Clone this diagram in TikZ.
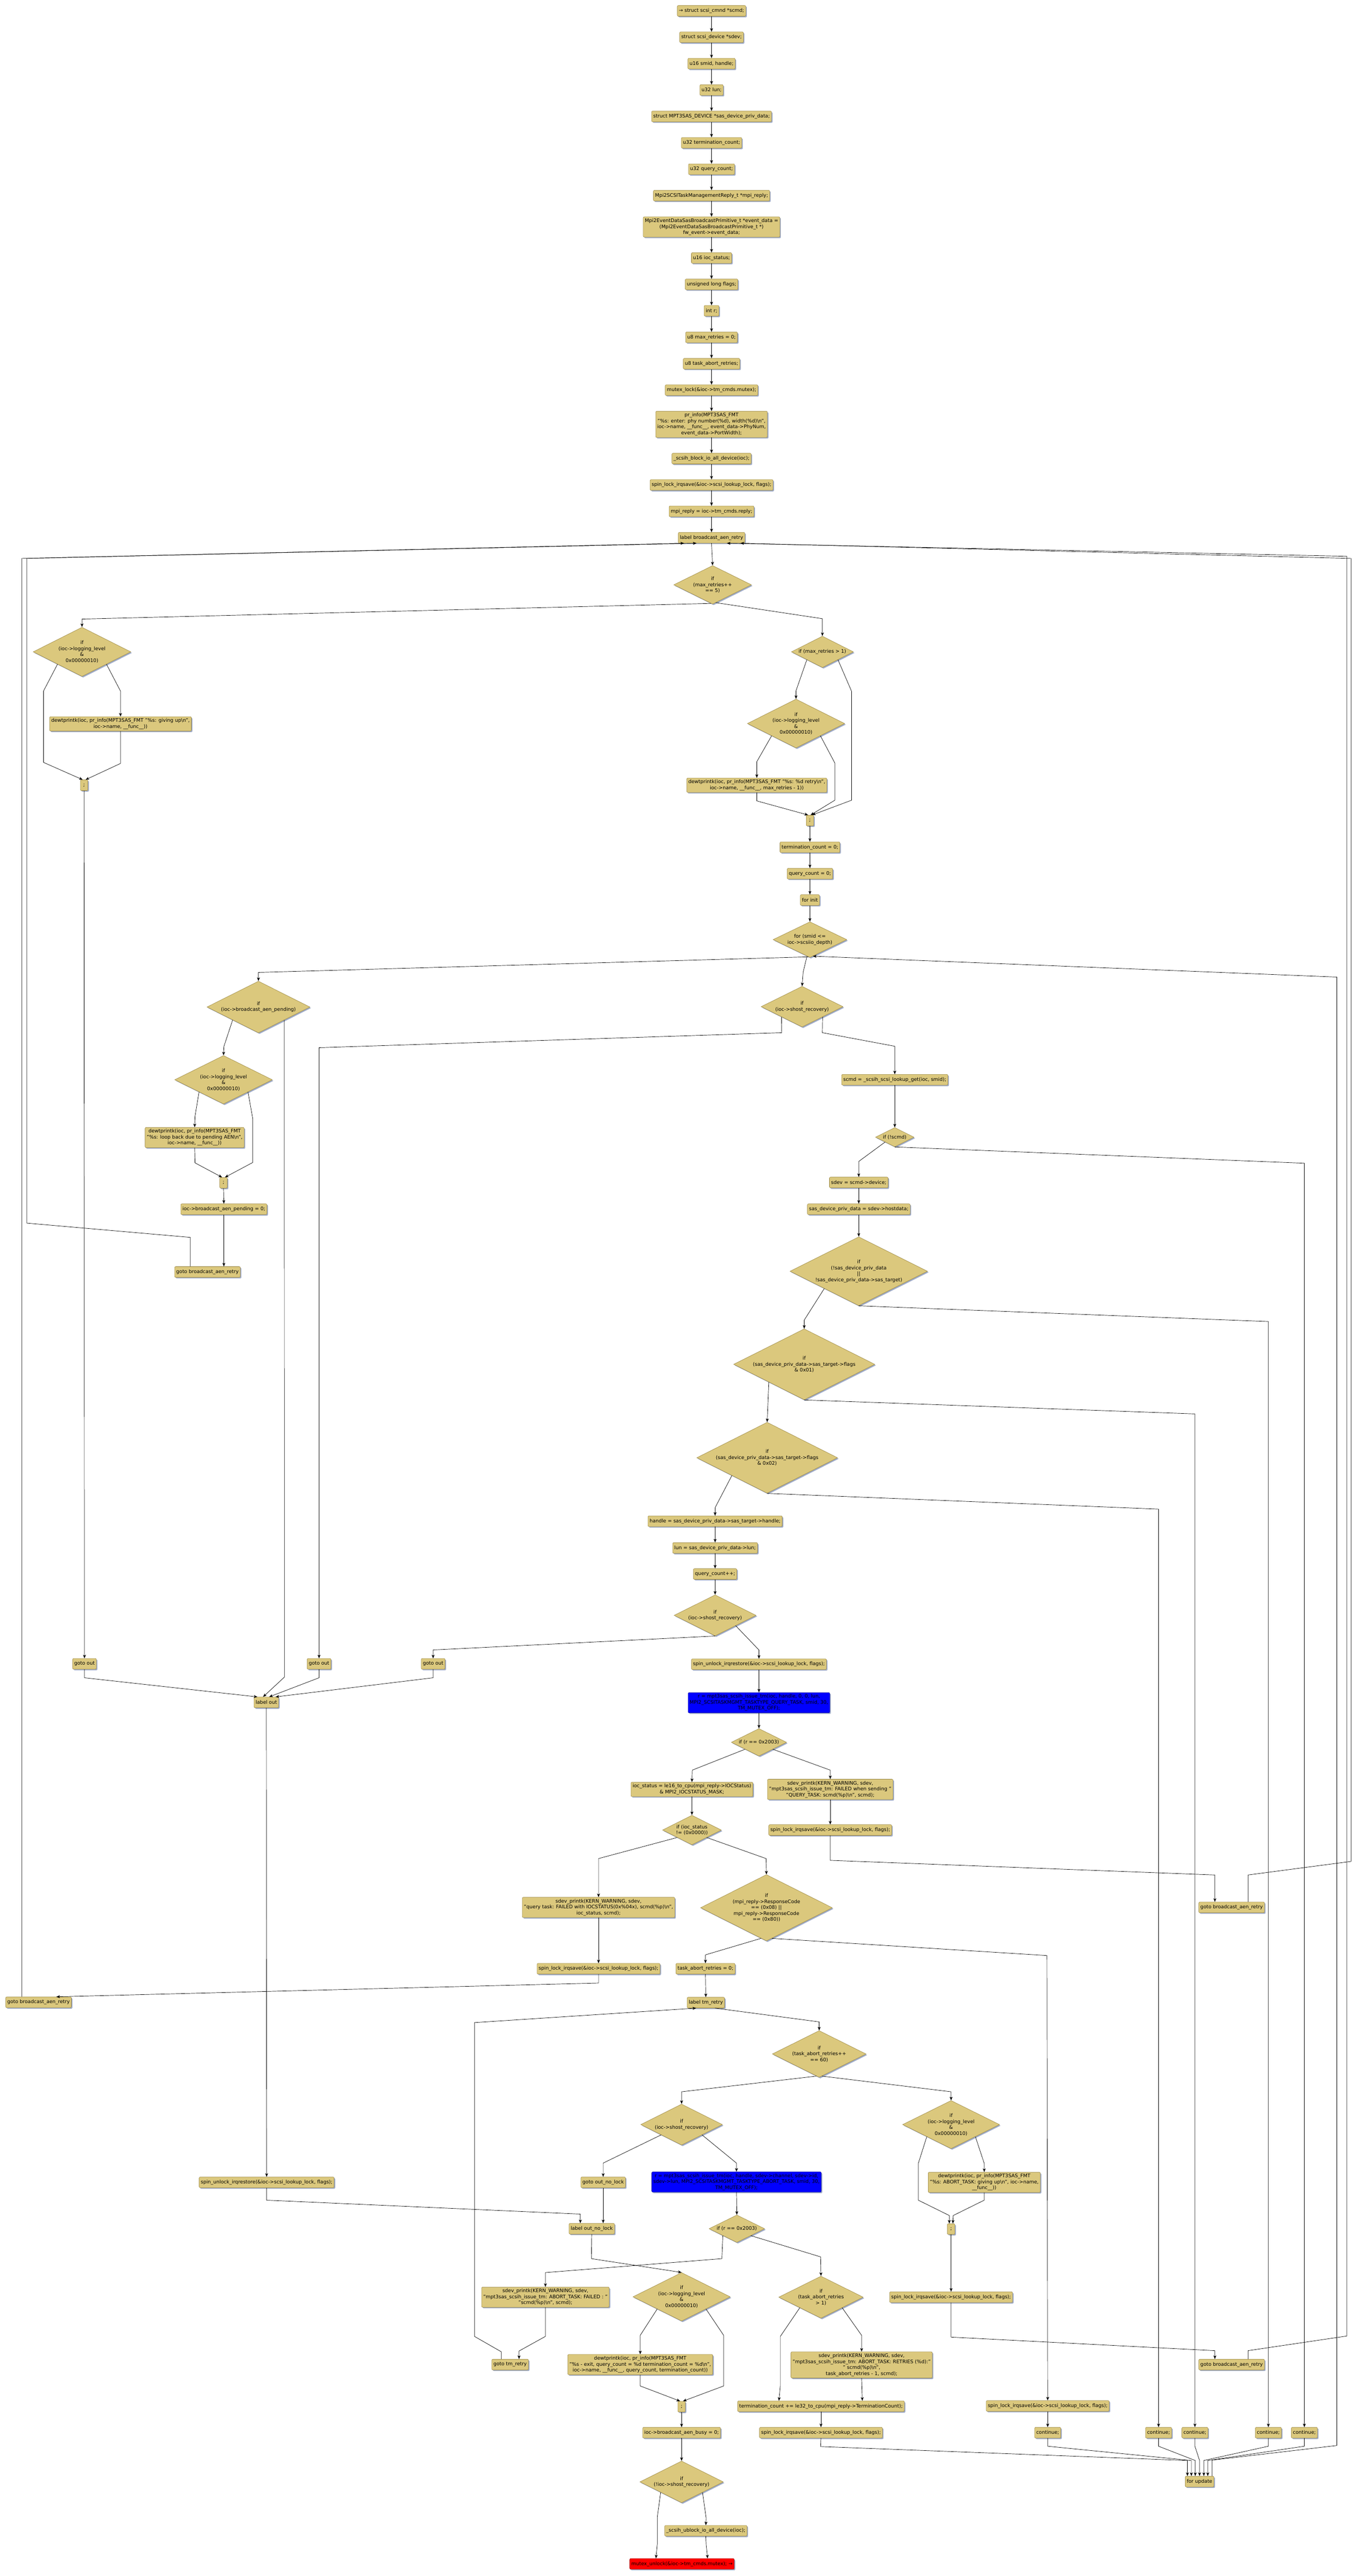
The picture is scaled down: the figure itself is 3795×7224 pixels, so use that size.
\documentclass[tikz,border=0pt]{standalone}
\usepackage{fontspec}
\setmainfont{DejaVu Sans}
\usetikzlibrary{shapes.geometric,arrows.meta,shadows,calc}
\newcommand\nodefont{\fontsize{13.7}{16.6}\selectfont}
\definecolor{boxfill}{RGB}{219,200,125}
\definecolor{boxdraw}{RGB}{150,130,60}
\definecolor{shadowc}{RGB}{160,172,200}
\newcommand\dnode[6]{\node[dia,minimum width=#4pt,minimum height=#5pt] (#1) at (#2,#3) {}; \node (#1-t) at (#1.center) {#6};}
\begin{document}
\begin{tikzpicture}[x=1pt,y=-1pt,
  every node/.style={font=\nodefont, align=center},
  shad/.style={drop shadow={shadow xshift=3pt,shadow yshift=-3pt,fill=shadowc,opacity=1}},
  box/.style={shad, draw=boxdraw, fill=boxfill, rounded corners=3pt, line width=0.8pt, inner xsep=4.5pt, inner ysep=5pt, minimum height=30pt},
  semi/.style={box, minimum width=21pt, inner xsep=2pt},
  dia/.style={shad, shape=diamond, draw=boxdraw, fill=boxfill, line width=0.8pt, inner sep=0pt},
  arr/.style={-{Stealth[length=10pt,width=8pt,inset=2.5pt]}, line width=1pt}]
\fill[white] (0,0) rectangle (3795,7224);
\useasboundingbox (0,0) rectangle (3795,7224);

% ---------- top chain ----------
\node[box] (n1) at (1996,30.5) {→ struct scsi\_cmnd *scmd;};
\node[box] (n2) at (1996,104.5) {struct scsi\_device *sdev;};
\node[box] (n3) at (1996,178.5) {u16 smid, handle;};
\node[box] (n4) at (1996,252.5) {u32 lun;};
\node[box] (n5) at (1996,326.5) {struct MPT3SAS\_DEVICE *sas\_device\_priv\_data;};
\node[box] (n6) at (1996,400.5) {u32 termination\_count;};
\node[box] (n7) at (1996,474.5) {u32 query\_count;};
\node[box] (n8) at (1996,548.5) {Mpi2SCSITaskManagementReply\_t *mpi\_reply;};
\node[box] (n9) at (1996,636.5) {Mpi2EventDataSasBroadcastPrimitive\_t *event\_data =\\(Mpi2EventDataSasBroadcastPrimitive\_t *)\\fw\_event->event\_data;};
\node[box] (n10) at (1996,723.5) {u16 ioc\_status;};
\node[box] (n11) at (1996,797.5) {unsigned long flags;};
\node[box] (n12) at (1996,871.5) {int r;};
\node[box] (n13) at (1996,946) {u8 max\_retries = 0;};
\node[box] (n14) at (1996,1020) {u8 task\_abort\_retries;};
\node[box] (n15) at (1996,1094) {mutex\_lock(\&ioc->tm\_cmds.mutex);};
\node[box] (n16) at (1996,1190) {pr\_info(MPT3SAS\_FMT\\"\%s: enter: phy number(\%d), width(\%d)\textbackslash n",\\ioc->name, \_\_func\_\_, event\_data->PhyNum,\\event\_data->PortWidth);};
\node[box] (n17) at (1996,1286) {\_scsih\_block\_io\_all\_device(ioc);};
\node[box] (n18) at (1996,1360) {spin\_lock\_irqsave(\&ioc->scsi\_lookup\_lock, flags);};
\node[box] (n19) at (1996,1434) {mpi\_reply = ioc->tm\_cmds.reply;};
\node[box] (n20) at (1996,1508) {label broadcast\_aen\_retry};
\foreach \a/\b in {n1/n2,n2/n3,n3/n4,n4/n5,n5/n6,n6/n7,n7/n8,n8/n9,n9/n10,n10/n11,n11/n12,n12/n13,n13/n14,n14/n15,n15/n16,n16/n17,n17/n18,n18/n19,n19/n20}
  \draw[arr] (\a.south) -- (\b.north);

% ---------- retry part ----------
\dnode{D1}{1999}{1640}{218}{108}{if\\(max\_retries++\\== 5)}
\dnode{Dleft}{230}{1828}{274}{138}{if\\(ioc->logging\_level\\\&\\0x00000010)}
\node[box] (Bgiveup) at (338,2030) {dewtprintk(ioc, pr\_info(MPT3SAS\_FMT "\%s: giving up\textbackslash n",\\ioc->name, \_\_func\_\_))};
\node[semi] (S1) at (236,2202) {;};
\dnode{D2}{2307}{1828}{174}{88}{if (max\_retries > 1)}
\dnode{D3}{2233}{2029}{273}{137}{if\\(ioc->logging\_level\\\&\\0x00000010)}
\node[box] (Bretry) at (2123,2202) {dewtprintk(ioc, pr\_info(MPT3SAS\_FMT "\%s: \%d retry\textbackslash n",\\ioc->name, \_\_func\_\_, max\_retries - 1))};
\node[semi] (S2) at (2272,2301) {;};
\node[box] (Bterm0) at (2272,2376) {termination\_count = 0;};
\node[box] (Bqc0) at (2272,2450) {query\_count = 0;};
\node[box] (Bfinit) at (2272,2524) {for init};
\dnode{Dfor}{2272}{2635}{207}{100}{for (smid <=\\ioc->scsiio\_depth)}

% ---------- after loop ----------
\dnode{Dpend}{725}{2824}{289}{145}{if\\(ioc->broadcast\_aen\_pending)}
\dnode{Dlog2}{627}{3028}{274}{136}{if\\(ioc->logging\_level\\\&\\0x00000010)}
\node[box] (Bloop) at (546,3190) {dewtprintk(ioc, pr\_info(MPT3SAS\_FMT\\"\%s: loop back due to pending AEN\textbackslash n",\\ioc->name, \_\_func\_\_))};
\node[semi] (S3) at (627,3317) {;};
\node[box] (Bpend0) at (628,3391) {ioc->broadcast\_aen\_pending = 0;};
\node[box] (G1) at (582,3567) {goto broadcast\_aen\_retry};

% ---------- loop body ----------
\dnode{Dsr1}{2250}{2823}{230}{114}{if\\(ioc->shost\_recovery)}
\node[box] (Bscmd) at (2510,3028) {scmd = \_scsih\_scsi\_lookup\_get(ioc, smid);};
\dnode{Dscmd}{2510}{3189}{108}{54}{if (!scmd)}
\node[box] (Bsdev) at (2409,3316) {sdev = scmd->device;};
\node[box] (Bpriv) at (2409,3391) {sas\_device\_priv\_data = sdev->hostdata;};
\dnode{Dpriv}{2409}{3565}{386}{193}{if\\(!sas\_device\_priv\_data\\||\\!sas\_device\_priv\_data->sas\_target)}
\dnode{Df1}{2256}{3826}{396}{199}{if\\(sas\_device\_priv\_data->sas\_target->flags\\\& 0x01)}
\dnode{Df2}{2152}{4088}{395}{199}{if\\(sas\_device\_priv\_data->sas\_target->flags\\\& 0x02)}
\node[box] (Bhandle) at (2006,4266) {handle = sas\_device\_priv\_data->sas\_target->handle;};
\node[box] (Blun) at (2006,4341) {lun = sas\_device\_priv\_data->lun;};
\node[box] (Bqc) at (2006,4414) {query\_count++;};
\dnode{Dsr2}{2006}{4530}{230}{115}{if\\(ioc->shost\_recovery)}
\node[box] (Bunl1) at (2129,4667) {spin\_unlock\_irqrestore(\&ioc->scsi\_lookup\_lock, flags);};
\node[box, fill=blue, draw=blue!60!black] (Bblue1) at (2129,4775) {r = mpt3sas\_scsih\_issue\_tm(ioc, handle, 0, 0, lun,\\MPI2\_SCSITASKMGMT\_TASKTYPE\_QUERY\_TASK, smid, 30,\\TM\_MUTEX\_OFF);};
\dnode{Dr1}{2129}{4886}{155}{77}{if (r == 0x2003)}
\node[box] (Biocst) at (1941,5018) {ioc\_status = le16\_to\_cpu(mpi\_reply->IOCStatus)\\\& MPI2\_IOCSTATUS\_MASK;};
\node[box] (Bfail1) at (2329,5018) {sdev\_printk(KERN\_WARNING, sdev,\\"mpt3sas\_scsih\_issue\_tm: FAILED when sending "\\"QUERY\_TASK: scmd(\%p)\textbackslash n", scmd);};
\node[box] (Blockr) at (2329,5132) {spin\_lock\_irqsave(\&ioc->scsi\_lookup\_lock, flags);};
\dnode{Diocst}{1941}{5132}{165}{83}{if (ioc\_status\\!= (0x0000))}
\node[box] (Bqtfail) at (1679,5349) {sdev\_printk(KERN\_WARNING, sdev,\\"query task: FAILED with IOCSTATUS(0x\%04x), scmd(\%p)\textbackslash n",\\ioc\_status, scmd);};
\dnode{Dresp}{2150}{5350}{370}{186}{if\\(mpi\_reply->ResponseCode\\== (0x08) ||\\mpi\_reply->ResponseCode\\== (0x80))}
\node[box] (Blockq) at (1679,5521) {spin\_lock\_irqsave(\&ioc->scsi\_lookup\_lock, flags);};
\node[box] (Btar0) at (1979,5521) {task\_abort\_retries = 0;};
\node[box] (Ltm) at (1980,5616) {label tm\_retry};
\node[box] (G2) at (108,5615) {goto broadcast\_aen\_retry};
\node[box] (G3) at (3455,5349) {goto broadcast\_aen\_retry};
\node[box] (GO1) at (237,4666) {goto out};
\node[box] (GO2) at (895,4666) {goto out};
\node[box] (GO3) at (1215,4666) {goto out};
\node[box] (Lout) at (747,4774) {label out};
\node[box] (Bunlout) at (748,6120) {spin\_unlock\_irqrestore(\&ioc->scsi\_lookup\_lock, flags);};

% ---------- tm_retry part ----------
\dnode{Dtar60}{2298}{5760}{263}{131}{if\\(task\_abort\_retries++\\== 60)}
\dnode{Dsr3}{1912}{5958}{229}{115}{if\\(ioc->shost\_recovery)}
\dnode{Dlog4}{2668}{5958}{272}{135}{if\\(ioc->logging\_level\\\&\\0x00000010)}
\node[box] (Gonl) at (1692,6120) {goto out\_no\_lock};
\node[box, fill=blue, draw=blue!60!black] (Bblue2) at (2066,6119) {r = mpt3sas\_scsih\_issue\_tm(ioc, handle, sdev->channel, sdev->id,\\sdev->lun, MPI2\_SCSITASKMGMT\_TASKTYPE\_ABORT\_TASK, smid, 30,\\TM\_MUTEX\_OFF);};
\node[box] (Lonl) at (1660,6250) {label out\_no\_lock};
\dnode{Dr2}{2067}{6250}{156}{77}{if (r == 0x2003)}
\node[box] (Bdewab) at (2761,6120) {dewtprintk(ioc, pr\_info(MPT3SAS\_FMT\\"\%s: ABORT\_TASK: giving up\textbackslash n", ioc->name,\\\_\_func\_\_))};
\node[semi] (S4) at (2668,6251) {;};
\node[box] (Bfail2) at (1530,6442) {sdev\_printk(KERN\_WARNING, sdev,\\"mpt3sas\_scsih\_issue\_tm: ABORT\_TASK: FAILED : "\\"scmd(\%p)\textbackslash n", scmd);};
\dnode{Dlog5}{1912}{6441}{273}{136}{if\\(ioc->logging\_level\\\&\\0x00000010)}
\dnode{Dtar1}{2303}{6442}{237}{118}{if\\(task\_abort\_retries\\> 1)}
\node[box] (Blockab) at (2668,6442) {spin\_lock\_irqsave(\&ioc->scsi\_lookup\_lock, flags);};
\node[box] (Gtm) at (1431,6631) {goto tm\_retry};
\node[box] (Bexit) at (1796,6631) {dewtprintk(ioc, pr\_info(MPT3SAS\_FMT\\"\%s - exit, query\_count = \%d termination\_count = \%d\textbackslash n",\\ioc->name, \_\_func\_\_, query\_count, termination\_count))};
\node[box] (Bretries) at (2417,6632) {sdev\_printk(KERN\_WARNING, sdev,\\"mpt3sas\_scsih\_issue\_tm: ABORT\_TASK: RETRIES (\%d):"\\" scmd(\%p)\textbackslash n",\\task\_abort\_retries - 1, scmd);};
\node[box] (G4) at (3455,6631) {goto broadcast\_aen\_retry};
\node[semi] (S5) at (1912,6749) {;};
\node[box] (Bterm) at (2303,6748) {termination\_count += le32\_to\_cpu(mpi\_reply->TerminationCount);};
\node[box] (Blockr2) at (2939,6747) {spin\_lock\_irqsave(\&ioc->scsi\_lookup\_lock, flags);};
\node[box] (Bbusy) at (1912,6822) {ioc->broadcast\_aen\_busy = 0;};
\node[box] (Blockt) at (2303,6822) {spin\_lock\_irqsave(\&ioc->scsi\_lookup\_lock, flags);};
\node[box] (C1) at (2939,6822) {continue;};
\node[box] (C2) at (3250,6822) {continue;};
\node[box] (C3) at (3352,6822) {continue;};
\node[box] (C4) at (3558,6822) {continue;};
\node[box] (C5) at (3659,6822) {continue;};
\node[box] (Bforupd) at (3365,6959) {for update};
\dnode{Dnsr}{1912}{6960}{234}{117}{if\\(!ioc->shost\_recovery)}
\node[box] (Bublock) at (1980,7097) {\_scsih\_ublock\_io\_all\_device(ioc);};
\node[box, fill=red, draw=red!60!black] (Bred) at (1913,7190) {mutex\_unlock(\&ioc->tm\_cmds.mutex); →};

% ---------- edges ----------
\draw[arr] (n20.south) -- (D1.north);
\draw[arr] (D1.-95) -- (230,1736) -- (Dleft.north);
\draw[arr] (D1.-80) -- (2307,1735) -- (D2.north);
\draw[arr] (Dleft.south east) -- (338,1938) -- (Bgiveup.north);
\draw[arr] (Dleft.south west) -- (122,1938) -- (122,2138) -- ([xshift=-4pt]S1.north);
\draw[arr] (Bgiveup.south) -- (338,2141) -- ([xshift=4pt]S1.north);
\draw[arr] (S1.south) -- (GO1.north);
\draw[arr] (D2.south west) -- (2233,1937) -- (D3.north);
\draw[arr] (D2.south east) -- (2389,1939) -- (2389,2244) -- ([xshift=6pt]S2.north);
\draw[arr] (D3.south west) -- (2123,2136) -- (Bretry.north);
\draw[arr] (D3.south east) -- (2342,2140) -- (2342,2244) -- ([xshift=2pt]S2.north);
\draw[arr] (Bretry.south) -- (2123,2246) -- ([xshift=-5pt]S2.north);
\draw[arr] (S2.south) -- (Bterm0.north);
\draw[arr] (Bterm0.south) -- (Bqc0.north);
\draw[arr] (Bqc0.south) -- (Bfinit.north);
\draw[arr] (Bfinit.south) -- (Dfor.north);
\draw[arr] (Dfor.-95) -- (725,2727) -- (Dpend.north);
\draw[arr] (Dfor.-100) -- (2253,2726) -- (Dsr1.north);
\draw[arr] ([xshift=35pt]Bforupd.north) -- (3400,6899) -- (3750,6858) -- (3750,2740) -- (Dfor.-80);

\draw[arr] (Dpend.south west) -- (628,2935) -- (Dlog2.north);
\draw[arr] (Dpend.south east) -- (798,4703) -- ([xshift=-9pt]Lout.north);
\draw[arr] (Dlog2.south west) -- (547,3131) -- (Bloop.north);
\draw[arr] (Dlog2.south east) -- (709,3137) -- (709,3260) -- ([xshift=4pt]S3.north);
\draw[arr] (Bloop.south) -- (547,3261) -- ([xshift=-4pt]S3.north);
\draw[arr] (S3.south) -- (Bpend0.north);
\draw[arr] (Bpend0.south) -- (Bpend0.south |- G1.north);
\draw[arr] ([xshift=-48pt]G1.north) -- (534,3470) -- (75,3430) -- (75,1566) -- ([xshift=-42pt]n20.south);
\draw[arr] ([xshift=-47pt]G2.north) -- (61,1566) -- ([xshift=-77pt]n20.south);
\draw[arr] ([xshift=46pt]G3.north) -- (3501,5258) -- (3790,5220) -- (3790,1566) -- ([xshift=81pt]n20.south);
\draw[arr] ([xshift=46pt]G4.north) -- (3501,6592) -- (3778,6551) -- (3778,1560) -- ([xshift=43pt]n20.south);

\draw[arr] (Dsr1.south west) -- (2193,2896) -- (895,2938) -- (GO2.north);
\draw[arr] (Dsr1.south east) -- (2307,2896) -- (2510,2934) -- (Bscmd.north);
\draw[arr] (Bscmd.south) -- (Dscmd.north);
\draw[arr] (Dscmd.south west) -- (2409,3257) -- (Bsdev.north);
\draw[arr] (Dscmd.south) -- (3659,3262) -- (C5.north);
\draw[arr] (Bsdev.south) -- (Bpriv.north);
\draw[arr] (Bpriv.south) -- (Dpriv.north);
\draw[arr] (Dpriv.south west) -- (2256,3702) -- (Df1.north);
\draw[arr] (Dpriv.south) -- (3558,3706) -- (C4.north);
\draw[arr] (Df1.south west) -- (Df2.north);
\draw[arr] (Df1.south) -- (3352,3965) -- (C3.north);
\draw[arr] (Df2.south west) -- (2006,4228) -- (Bhandle.north);
\draw[arr] (Df2.south) -- (3250,4232) -- (C2.north);
\draw[arr] (Bhandle.south) -- (Blun.north);
\draw[arr] (Blun.south) -- (Bqc.north);
\draw[arr] (Bqc.south) -- (Dsr2.north);
\draw[arr] (Dsr2.south) -- (1215,4627) -- (GO3.north);
\draw[arr] (Dsr2.south east) -- (2129,4627) -- (Bunl1.north);
\draw[arr] (GO1.south) -- (237,4705) -- ([xshift=-25pt]Lout.north);
\draw[arr] (GO2.south) -- (895,4705) -- ([xshift=8pt]Lout.north);
\draw[arr] (GO3.south) -- (1215,4705) -- ([xshift=26pt]Lout.north);
\draw[arr] (Lout.south) -- (Bunlout.north);
\draw[arr] (Bunlout.south) -- (748,6170) -- (1628,6209) -- ([xshift=-32pt]Lonl.north);

\draw[arr] (Bunl1.south) -- (Bblue1.north);
\draw[arr] (Bblue1.south) -- (Dr1.north);
\draw[arr] (Dr1.south west) -- (1942,4964) -- (Biocst.north);
\draw[arr] (Dr1.south east) -- (2329,4964) -- (Bfail1.north);
\draw[arr] (Biocst.south) -- (Diocst.north);
\draw[arr] (Bfail1.south) -- (Blockr.north);
\draw[arr] (Blockr.south) -- (2329,5217) -- (3408,5258) -- ([xshift=-47pt]G3.north);
\draw[arr] (Diocst.south west) -- (1679,5212) -- (Bqtfail.north);
\draw[arr] (Diocst.south east) -- (2149,5212) -- (Dresp.north);
\draw[arr] (Bqtfail.south) -- (Blockq.north);
\draw[arr] (Blockq.south) -- (1679,5561) -- ([xshift=50pt]G2.north);
\draw[arr] (Dresp.-100) -- (1979,5482) -- (Btar0.north);
\draw[arr] (Dresp.-80) -- (2937,5484) -- (Blockr2.north);
\draw[arr] (Btar0.south) -- (Ltm.north);
\draw[arr] ([xshift=26pt]Ltm.south) -- (2298,5670) -- (Dtar60.north);
\draw[arr] ([xshift=-25pt]Gtm.north) -- (1406,6595) -- (1331,6552) -- (1331,5672) -- ([xshift=-27pt]Ltm.south);
\draw[arr] (Dtar60.-97) -- (1912,5866) -- (Dsr3.north);
\draw[arr] (Dtar60.-83) -- (2668,5866) -- (Dlog4.north);
\draw[arr] (Dsr3.south west) -- (1692,6066) -- (Gonl.north);
\draw[arr] (Dsr3.south east) -- (2066,6066) -- (Bblue2.north);
\draw[arr] (Gonl.south) -- (Gonl.south |- Lonl.north);
\draw[arr] (Bblue2.south) -- (Dr2.north);
\draw[arr] (Lonl.south) -- (1659,6334) -- (Dlog5.north);
\draw[arr] (Dr2.south west) -- (2025,6334) -- (1530,6373) -- (Bfail2.north);
\draw[arr] (Dr2.south east) -- (2302,6329) -- (Dtar1.north);
\draw[arr] (Bfail2.south) -- (1530,6552) -- (1456,6593) -- ([xshift=25pt]Gtm.north);
\draw[arr] (Dlog5.south west) -- (1796,6549) -- (Bexit.north);
\draw[arr] (Dlog5.south east) -- (2030,6549) -- (2030,6691) -- ([xshift=4pt]S5.north);
\draw[arr] (Bexit.south) -- (1796,6691) -- ([xshift=-4pt]S5.north);
\draw[arr] (S5.south) -- (Bbusy.north);
\draw[arr] (Bbusy.south) -- (Dnsr.north);
\draw[arr] (Dnsr.south west) -- (1844,7058) -- (1844,7133) -- ([xshift=-73pt]Bred.north);
\draw[arr] (Dnsr.south east) -- (1981,7062) -- (Bublock.north);
\draw[arr] (Bublock.south) -- (1981,7137) -- ([xshift=72pt]Bred.north);
\draw[arr] (Dtar1.south west) -- (2189,6552) -- (2189,6691) -- ([xshift=-118pt]Bterm.north);
\draw[arr] (Dtar1.south east) -- (2417,6549) -- (Bretries.north);
\draw[arr] (Bretries.south) -- ([xshift=116pt]Bterm.north);
\draw[arr] (Bterm.south) -- (Blockt.north);
\draw[arr] (Blockt.south) -- (2302,6861) -- (3331,6900) -- ([xshift=-34pt]Bforupd.north);
\draw[arr] (Dlog4.south west) -- (2576,6067) -- (2576,6170) -- (2663,6213) -- ([xshift=-5pt]S4.north);
\draw[arr] (Dlog4.south east) -- (2761,6067) -- (Bdewab.north);
\draw[arr] (Bdewab.south) -- (2761,6170) -- (2674,6213) -- ([xshift=5pt]S4.north);
\draw[arr] (S4.south) -- (Blockab.north);
\draw[arr] (Blockab.south) -- (2668,6554) -- (3408,6592) -- ([xshift=-47pt]G4.north);
\draw[arr] (Blockr2.south) -- (C1.north);
\draw[arr] (C1.south) -- (2939,6860) -- (3342,6900) -- ([xshift=-23pt]Bforupd.north);
\draw[arr] (C2.south) -- (3250,6860) -- (3353,6900) -- ([xshift=-12pt]Bforupd.north);
\draw[arr] (C3.south) -- (3352,6860) -- (3365,6900) -- (Bforupd.north);
\draw[arr] (C4.south) -- (3558,6860) -- (3377,6900) -- ([xshift=12pt]Bforupd.north);
\draw[arr] (C5.south) -- (3659,6860) -- (3388,6900) -- ([xshift=23pt]Bforupd.north);
\end{tikzpicture}
\end{document}
